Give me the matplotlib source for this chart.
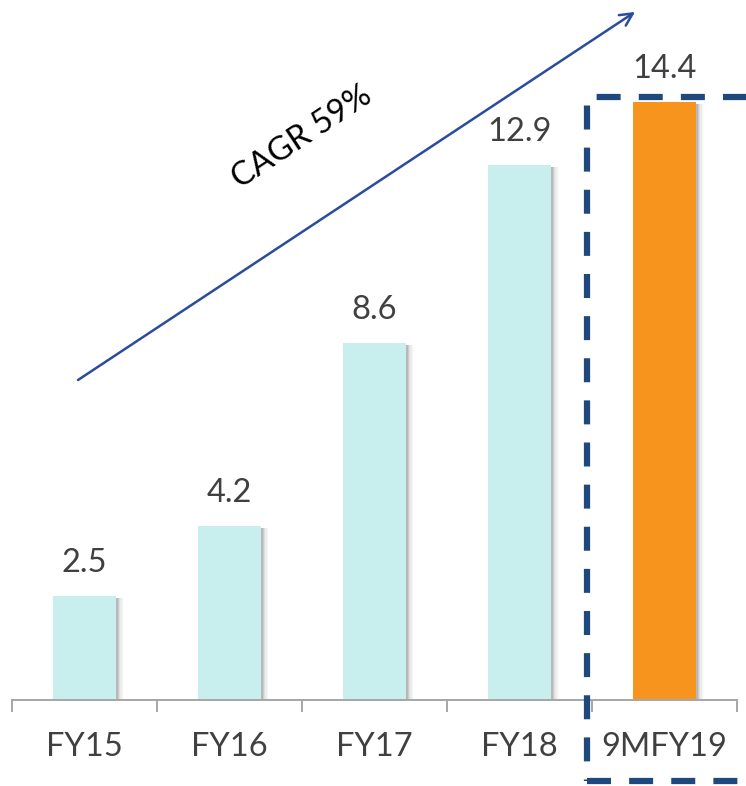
import matplotlib
matplotlib.use("Agg")
import matplotlib.pyplot as plt
from matplotlib.patches import Rectangle
import numpy as np

categories = ["FY15", "FY16", "FY17", "FY18", "9MFY19"]
values = [2.5, 4.2, 8.6, 12.9, 14.4]
bar_colors = ["#C8EFEE", "#C8EFEE", "#C8EFEE", "#C8EFEE", "#F7941D"]
cagr_label = "CAGR 59%"

W, H, DPI = 746, 786, 100
fig = plt.figure(figsize=(W / DPI, H / DPI), dpi=DPI)
fig.patch.set_facecolor("white")

# axes spans from the first to the last category boundary
left_px, right_px, base_px, top_px = 12, 737, 700, 28
ax = fig.add_axes([left_px / W, 1 - base_px / H,
                   (right_px - left_px) / W, (base_px - top_px) / H])
ax.set_xlim(-0.5, len(categories) - 0.5)
px_per_unit = 41.5
ax.set_ylim(0, (base_px - top_px) / px_per_unit)
ax.axis("off")

font = "Lato"
x = np.arange(len(categories))
bw = 0.44

# soft drop shadows behind bars
for i, v in enumerate(values):
    for k, a in enumerate([0.14, 0.11, 0.08, 0.05, 0.03, 0.015]):
        dx = (1.5 + k * 1.2) / 145
        ax.add_patch(Rectangle((x[i] - bw / 2 + dx, 0), bw, v - 0.05,
                               facecolor="#404040", alpha=a, lw=0, zorder=1))

ax.bar(x, values, width=bw, color=bar_colors, zorder=2)

for xi, v in zip(x, values):
    ax.annotate(f"{v}", (xi, v), xytext=(0, 13), textcoords="offset points",
                ha="center", va="bottom", fontsize=23.5, color="#404040",
                family=font)

# baseline with boundary ticks
ax.plot([-0.5, len(categories) - 0.5], [0, 0], color="#A6A6A6", lw=1.4,
        zorder=3, clip_on=False, solid_capstyle="butt")
tick_len = 11 / px_per_unit
for b in np.arange(-0.5, len(categories), 1.0):
    ax.plot([b, b], [0, -tick_len], color="#A6A6A6", lw=1.4, clip_on=False)

for xi, c in zip(x, categories):
    ax.text(xi, -47 / px_per_unit, c, ha="center", va="center", fontsize=23.5,
            color="#404040", family=font)

# growth arrow
ax.annotate("", xy=(3.797, 16.58), xytext=(-0.045, 7.71),
            arrowprops=dict(arrowstyle="->,head_length=0.9,head_width=0.45",
                        color="#2B4C9E", lw=1.8, shrinkA=0, shrinkB=0),
            annotation_clip=False)
ax.text(1.5, (base_px - 137) / px_per_unit, cagr_label, rotation=33.5,
        rotation_mode="anchor", ha="center", va="center", fontsize=23.5,
        color="black", family=font)

# dashed highlight around the latest period
ax.add_patch(Rectangle((3.466, -1.95), 1.103, 14.53 + 1.95, fill=False,
                       edgecolor="#1F497D", lw=4.5, linestyle=(0, (3.84, 2.9)),
                       clip_on=False, zorder=4))

fig.savefig("out.png", dpi=DPI)
